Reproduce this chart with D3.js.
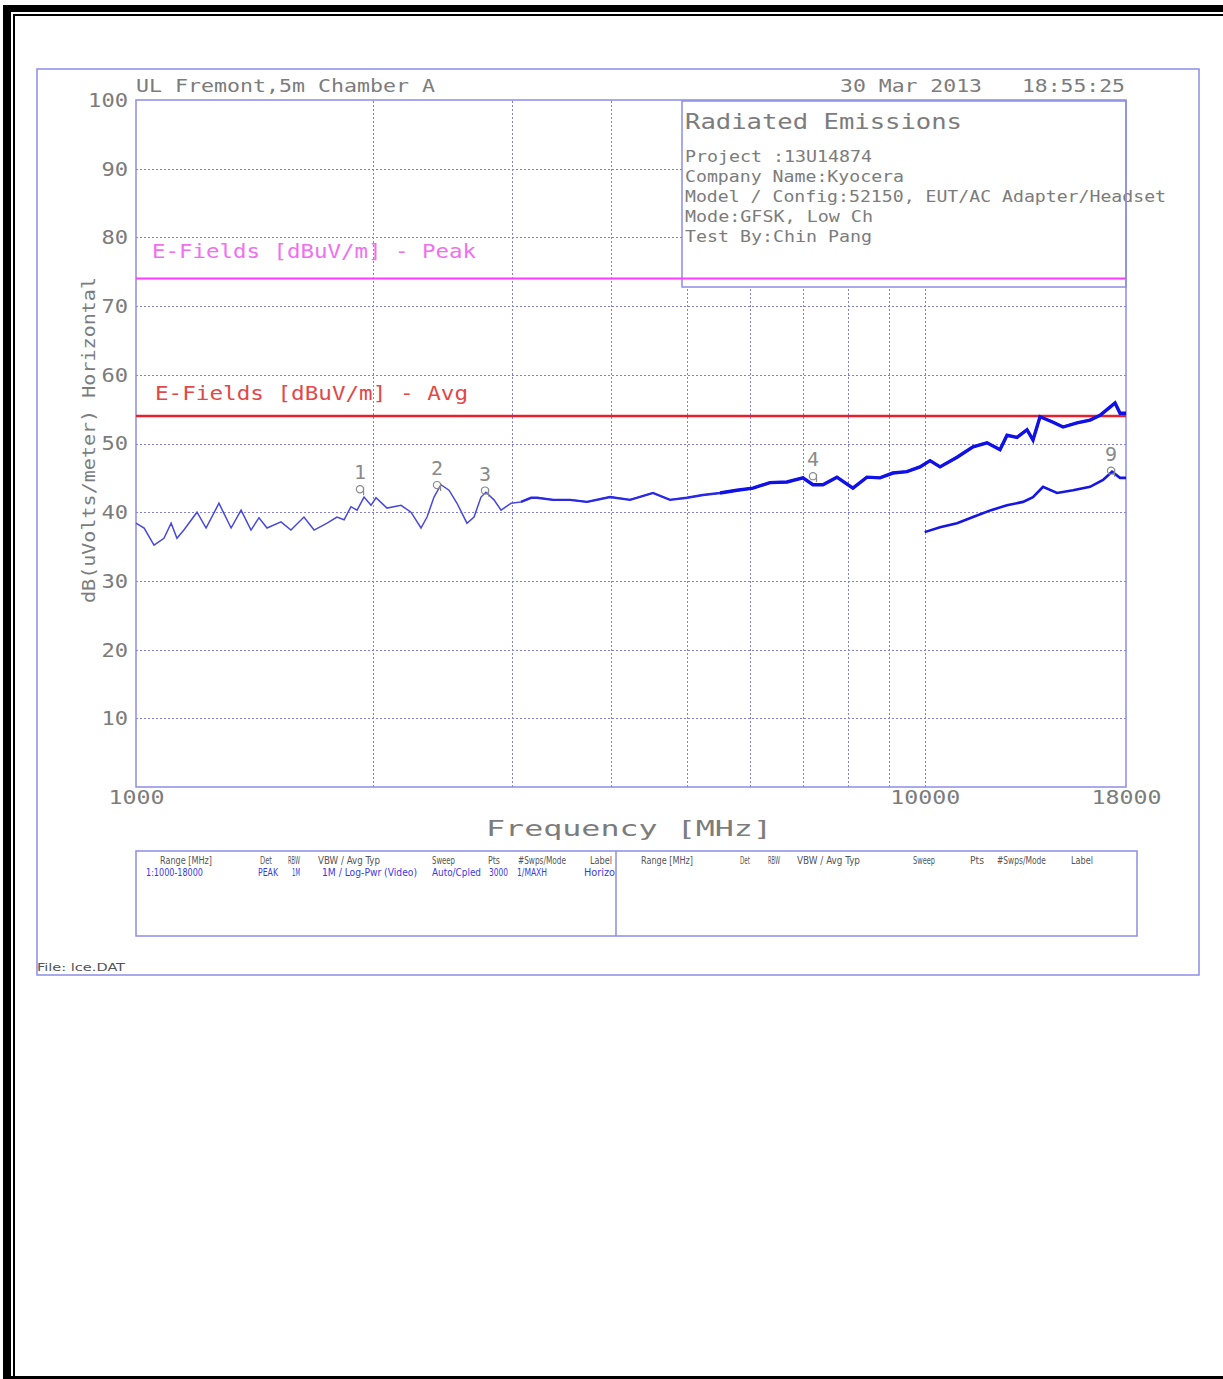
<!DOCTYPE html>
<html><head><meta charset="utf-8">
<script src="https://cdn.jsdelivr.net/npm/d3@7"></script>
<style>html,body{margin:0;padding:0;background:#fff;}</style>
</head><body>
<script>
// ---------- data ----------
const peakFreqs = [1000,1024,1054,1085,1108,1127,1150,1195,1227,1274,1320,1359,1399,1432,1466,1527,1572,1633,1682,1747,1798,1836,1873,1907,1946,1986,2015,2081,2168,2232,2298,2339,2387,2436,2494,2553,2628,2683,2738,2778,2844,2903,2989,3077,3169,3225,3379,3550,3731,3991,4231,4524,4754,4996,5234,5501,5781,6057,6365,6689,7009,7216,7430,7740,8110,8449,8775,9114,9494,9865,10158,10459,10991,11516,11996,12460,12717,13094,13482,13720,14004,14546,14977,15601,16206,16686,17180,17433,17689,18000];
const peakLevels = [38.4,37.7,35.2,36.2,38.4,36.2,37.4,40.0,37.7,41.3,37.7,40.3,37.4,39.2,37.7,38.6,37.4,39.3,37.4,38.4,39.3,38.9,40.8,40.3,42.2,41.0,42.1,40.6,41.0,40.0,37.7,39.3,42.2,44.0,43.2,41.3,38.4,39.3,42.2,42.9,41.8,40.3,41.3,41.5,42.1,42.1,41.8,41.8,41.5,42.2,41.8,42.8,41.8,42.1,42.5,42.8,43.2,43.5,44.3,44.4,45.0,44.0,44.0,45.1,43.5,45.1,45.0,45.7,45.9,46.6,47.5,46.6,48.0,49.5,50.1,49.1,51.2,50.9,52.0,50.5,53.9,53.1,52.4,53.0,53.4,54.1,55.3,55.9,54.4,54.4];
const avgFreqs = [10000,10459,10991,11516,12137,12717,13325,13720,14127,14717,15420,16206,16833,17281,17689,18000];
const avgLevels = [37.1,37.8,38.4,39.3,40.3,41.0,41.5,42.2,43.7,42.8,43.2,43.7,44.7,45.9,45.0,45.0];
const markerLabels = ["1","2","3","4","9"];
const markerFreqs = [1923,2408,2770,7216,17230];
const markerLevels = [43.2,43.8,43.0,45.1,45.9];
const limitLabels = ["E-Fields [dBuV/m] - Peak","E-Fields [dBuV/m] - Avg"];
const limitLevels = [74,54];
const yTickValues = [10,20,30,40,50,60,70,80,90,100];
const xTickValues = [1000,10000,18000];
const gridFreqs = [2000,3000,4000,5000,6000,7000,8000,9000,10000];
const infoTitle = "Radiated Emissions";
const infoLines = ["Project :13U14874","Company Name:Kyocera","Model / Config:52150, EUT/AC Adapter/Headset","Mode:GFSK, Low Ch","Test By:Chin Pang"];
const tableHeaders = ["Range [MHz]","Det","RBW","VBW / Avg Typ","Sweep","Pts","#Swps/Mode","Label"];
const tableRow = ["1:1000-18000","PEAK","1M","1M / Log-Pwr (Video)","Auto/Cpled","3000","1/MAXH","Horizo"];

// ---------- drawing ----------
const W = 1223, H = 1379;
const svg = d3.select("body").append("svg").attr("width", W).attr("height", H)
  .style("display","block").style("background","#fff");

const MONO = "'DejaVu Sans Mono','Liberation Mono',monospace";
const NARROW = "'DejaVu Sans Condensed','Liberation Sans Narrow','Liberation Sans',sans-serif";
const GRAY = "#7c7c7c";
const FRAME = "#8c8ce6";

function txt(g, x, y, s, o) {
  const t = g.append("text").attr("x", x).attr("y", y).text(s)
    .attr("font-family", o.family || MONO).attr("font-size", o.size)
    .attr("fill", o.fill || GRAY);
  if (o.len) t.attr("textLength", o.len).attr("lengthAdjust", "spacingAndGlyphs");
  if (o.anchor) t.attr("text-anchor", o.anchor);
  if (o.transform) t.attr("transform", o.transform);
  return t;
}

// page borders
const bd = svg.append("g");
bd.append("rect").attr("x",3).attr("y",5).attr("width",W-3).attr("height",7).attr("fill","#000");
bd.append("rect").attr("x",3).attr("y",5).attr("width",8).attr("height",H-5).attr("fill","#000");
bd.append("rect").attr("x",13).attr("y",14).attr("width",W-13).attr("height",2).attr("fill","#000");
bd.append("rect").attr("x",13).attr("y",14).attr("width",2).attr("height",H-14).attr("fill","#000");
bd.append("rect").attr("x",3).attr("y",1376).attr("width",W-3).attr("height",3).attr("fill","#000");

// outer chart frame
svg.append("rect").attr("x",37).attr("y",69).attr("width",1162).attr("height",906)
  .attr("fill","none").attr("stroke",FRAME).attr("stroke-width",1.5);

const x = d3.scaleLog().domain([1000,18000]).range([136,1126]);
const y = d3.scaleLinear().domain([0,100]).range([787,100]);

// grid
const grid = svg.append("g").attr("stroke","#8080dc").attr("stroke-width",1).attr("stroke-dasharray","2,2");
grid.selectAll("line.v").data(gridFreqs).join("line").attr("class","v")
  .attr("x1", d=>Math.round(x(d))+0.5).attr("x2", d=>Math.round(x(d))+0.5)
  .attr("y1", y(0)).attr("y2", y(100));
grid.selectAll("line.h").data(yTickValues.filter(v=>v<100)).join("line").attr("class","h")
  .attr("y1", d=>Math.round(y(d))+0.5).attr("y2", d=>Math.round(y(d))+0.5)
  .attr("x1", x(1000)).attr("x2", x(18000));

// info box (covers grid)
const ib = svg.append("g");
ib.append("rect").attr("x",682).attr("y",101).attr("width",444).attr("height",186)
  .attr("fill","#fff").attr("stroke",FRAME).attr("stroke-width",1.5);
txt(ib, 685, 129, infoTitle, {size:22, len:277});
const infoLens = [187, 219, 481, 188, 187];
infoLines.forEach((s,i)=> txt(ib, 685, 162 + i*20, s, {size:16, len:infoLens[i]}));

// plot frame
svg.append("rect").attr("x",x(1000)).attr("y",y(100)).attr("width",x(18000)-x(1000)).attr("height",y(0)-y(100))
  .attr("fill","none").attr("stroke",FRAME).attr("stroke-width",1.5);

// limit lines
const limColors = ["#ff3cff","#e8202c"];
const limWidths = [2,2.6];
const limLabelPos = [[152,258,324],[155,400,313]];
limitLevels.forEach((v,i)=>{
  svg.append("line").attr("x1",x(1000)).attr("x2",x(18000)).attr("y1",y(v)).attr("y2",y(v))
    .attr("stroke",limColors[i]).attr("stroke-width",limWidths[i]);
  txt(svg, limLabelPos[i][0], limLabelPos[i][1], limitLabels[i], {size:20, len:limLabelPos[i][2], fill: i===0?"#f070f0":"#e24848"});
});

// traces
const pts = peakFreqs.map((f,i)=>[f, peakLevels[i]]);
const avgPts = avgFreqs.map((f,i)=>[f, avgLevels[i]]);
const line = d3.line().x(d=>x(d[0])).y(d=>y(d[1]));
svg.append("path").datum(pts).attr("d",line).attr("fill","none").attr("stroke","#4848dc").attr("stroke-width",1.5);
svg.append("path").datum(pts.filter(d=>d[0]>=3000)).attr("d",line).attr("fill","none").attr("stroke","#2a2ae6").attr("stroke-width",2.4);
svg.append("path").datum(pts.filter(d=>d[0]>=5500)).attr("d",line).attr("fill","none").attr("stroke","#1010e8").attr("stroke-width",3.4);
svg.append("path").datum(avgPts).attr("d",line).attr("fill","none").attr("stroke","#1515e6").attr("stroke-width",2.6);

// markers
const mk = svg.append("g");
markerFreqs.forEach((f,i)=>{
  const cx = x(f), cy = y(markerLevels[i]);
  mk.append("circle").attr("cx",cx).attr("cy",cy-1).attr("r",3.6).attr("fill","none").attr("stroke","#8a8a8a").attr("stroke-width",1.2);
  mk.append("line").attr("x1",cx+3.6).attr("x2",cx+3.6).attr("y1",cy-3).attr("y2",cy+5).attr("stroke","#8a8a8a").attr("stroke-width",1.2);
  txt(mk, cx, cy-11, markerLabels[i], {size:20, anchor:"middle", fill:"#8a8a8a"});
});

// axes
const yAxis = svg.append("g").attr("transform",`translate(${x(1000)},0)`)
  .call(d3.axisLeft(y).tickValues(yTickValues).tickSize(0).tickPadding(8).tickFormat(d3.format("d")));
yAxis.select(".domain").remove();
yAxis.selectAll("text").attr("font-family",MONO).attr("font-size",20).attr("fill",GRAY)
  .attr("textLength", d=>String(d).length*13.3).attr("lengthAdjust","spacingAndGlyphs");

const xAxis = svg.append("g").attr("transform",`translate(0,${y(0)})`)
  .call(d3.axisBottom(x).tickValues(xTickValues).tickSize(0).tickPadding(3).tickFormat(d3.format("d")));
xAxis.select(".domain").remove();
xAxis.selectAll("text").attr("font-family",MONO).attr("font-size",20).attr("fill",GRAY)
  .attr("textLength", d=>String(d).length*14).attr("lengthAdjust","spacingAndGlyphs");

// axis titles and header
txt(svg, 629, 836, "Frequency [MHz]", {size:22, anchor:"middle", len:286});
txt(svg, 95, 440, "dB(uVolts/meter) Horizontal", {size:17, anchor:"middle", len:326, transform:"rotate(-90 95 440)"});
txt(svg, 136, 92, "UL Fremont,5m Chamber A", {size:17, len:299});
txt(svg, 840, 92, "30 Mar 2013", {size:17, len:142});
txt(svg, 1022, 92, "18:55:25", {size:17, len:103});

// bottom settings table
const tb = svg.append("g");
tb.append("rect").attr("x",136).attr("y",851).attr("width",1001).attr("height",85)
  .attr("fill","none").attr("stroke",FRAME).attr("stroke-width",1.5);
tb.append("line").attr("x1",616).attr("x2",616).attr("y1",851).attr("y2",936).attr("stroke",FRAME).attr("stroke-width",1.5);
const hdrL = [[160,52],[260,12],[288,12],[318,62],[432,23],[488,12],[518,48],[590,22]];
const hdrR = [[641,52],[740,10],[768,12],[797,63],[913,22],[970,14],[997,49],[1071,22]];
tableHeaders.forEach((s,i)=>{
  txt(tb, hdrL[i][0], 864, s, {size:10, family:NARROW, len:hdrL[i][1], fill:"#555"});
  txt(tb, hdrR[i][0], 864, s, {size:10, family:NARROW, len:hdrR[i][1], fill:"#555"});
});
const rowPos = [[146,57],[258,20],[292,8],[322,95],[432,49],[489,19],[517,30],[584,31]];
tableRow.forEach((s,i)=> txt(tb, rowPos[i][0], 876, s, {size:10, family:NARROW, len:rowPos[i][1], fill:"#3a3ae8"}));

txt(svg, 37, 971, "File: lce.DAT", {size:11, family:NARROW, len:88, fill:"#555"});
</script>
</body></html>
